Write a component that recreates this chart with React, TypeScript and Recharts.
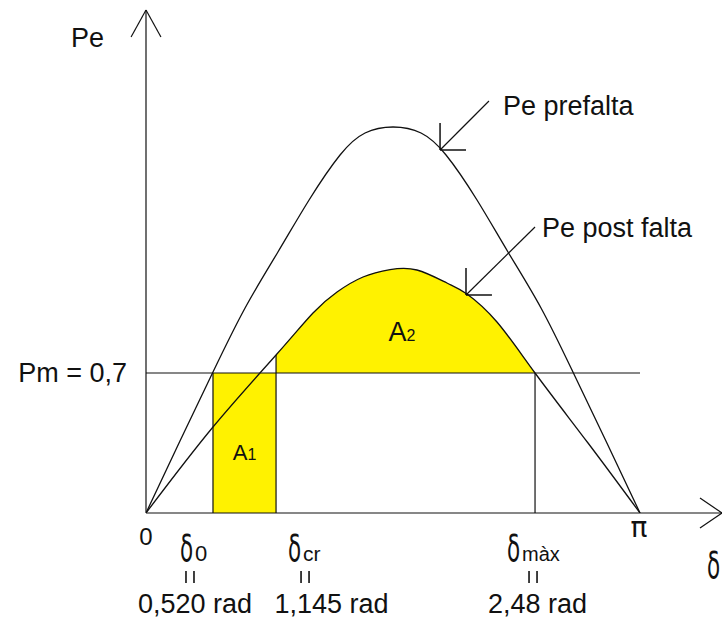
import React from 'react';
import {
  ComposedChart,
  Line,
  Area,
  XAxis,
  YAxis,
  ReferenceLine,
  ReferenceDot,
} from 'recharts';

// Curva Pe antes de la falta: [δ (rad), Pe (p.u.)]
const PE_PREFALTA: [number, number][] = [
  [0, 0], [0.216, 0.36], [0.426, 0.705], [0.63, 1.025], [0.839, 1.305],
  [1.037, 1.565], [1.234, 1.79], [1.393, 1.9], [1.571, 1.93], [1.749, 1.9],
  [1.908, 1.79], [2.105, 1.565], [2.302, 1.305], [2.512, 1.025], [2.715, 0.705],
  [2.925, 0.36], [3.1416, 0],
];

// Curva Pe después de la falta: [δ (rad), Pe (p.u.)]
const PE_POSTFALTA: [number, number][] = [
  [0, 0], [0.426, 0.43], [0.827, 0.79], [1.062, 1.0], [1.215, 1.105],
  [1.38, 1.18], [1.552, 1.217], [1.723, 1.215], [1.914, 1.15],
  [2.041, 1.095], [2.232, 0.955], [2.474, 0.7], [2.811, 0.35], [3.1416, 0],
];

const PM = 0.7;
const PM_LABEL = 'Pm = 0,7';

// Ángulos marcados sobre el eje δ (posición en el croquis)
const DELTA_0 = 0.426;
const DELTA_CR = 0.827;
const DELTA_MAX = 2.474;
const PI = Math.PI;

const X_TICKS = [0, DELTA_0, DELTA_CR, DELTA_MAX, PI];
const ANGLE_SUBS = ['0', 'cr', 'màx'];
const ANGLE_VALUES = ['0,520 rad', '1,145 rad', '2,48 rad'];
const Y_TICKS = [PM];

// Flechas indicadoras: [cola, punta] en (δ, Pe)
const CALLOUTS = [
  { text: 'Pe prefalta', tail: [2.181, 2.06], tip: [1.87, 1.815], dx: 14, dy: 14 },
  { text: 'Pe post falta', tail: [2.474, 1.43], tip: [2.035, 1.09], dx: 7, dy: 10 },
];

const X_MAX = 3.663;
const Y_MAX = 2.515;

const INK = '#111111';
const YELLOW = '#FFF200';
const FONT = '"Liberation Sans", Arial, sans-serif';
const GREEK = '"DejaVu Sans", sans-serif';

const preData = PE_PREFALTA.map(([delta, pe]) => ({ delta, pe }));
const postData = PE_POSTFALTA.map(([delta, pe]) => ({ delta, pe }));
const a1Data = [
  { delta: DELTA_0, band: [0, PM] },
  { delta: DELTA_CR, band: [0, PM] },
];
const a2Data = PE_POSTFALTA.filter(([d]) => d >= DELTA_CR && d <= DELTA_MAX).map(
  ([delta, pe]) => ({ delta, band: [PM, pe] }),
);
const peAtCr = (PE_POSTFALTA.find(([d]) => d === DELTA_CR) || [DELTA_CR, PM])[1];

// Desplazamientos (px) de cada rótulo respecto a su marca en el eje
const ANGLE_LAYOUT = [
  { glyph: -33, sub: -18, subSize: 22, eq: -23, value: -18 },
  { glyph: 12, sub: 27, subSize: 21, eq: 29, value: 55.5 },
  { glyph: -28, sub: -13, subSize: 20, eq: -2, value: 2.5 },
];

const Delta = ({ x, y }: { x: number; y: number }) => (
  <text
    transform={`translate(${x},${y}) scale(0.58,1)`}
    fontFamily={GREEK}
    fontSize={37}
    fill={INK}
  >
    δ
  </text>
);

// Signo igual en lectura vertical (dos trazos paralelos)
const VerticalEquals = ({ x, y }: { x: number; y: number }) => (
  <g stroke={INK} strokeWidth={1.6}>
    <line x1={x - 4} y1={y - 6} x2={x - 4} y2={y + 6} />
    <line x1={x + 4} y1={y - 6} x2={x + 4} y2={y + 6} />
  </g>
);

function AngleTick(props: any) {
  const { x, y, payload } = props;
  const v = Number(payload?.value);
  let idx = 0;
  X_TICKS.forEach((t, i) => {
    if (Math.abs(t - v) < Math.abs(X_TICKS[idx] - v)) idx = i;
  });
  if (idx === 0) {
    return (
      <text x={x} y={y + 32} textAnchor="middle" fontFamily={FONT} fontSize={24} fill={INK}>
        0
      </text>
    );
  }
  if (idx === X_TICKS.length - 1) {
    return (
      <text x={x - 1} y={y + 24} textAnchor="middle" fontFamily={GREEK} fontSize={28} fill={INK}>
        π
      </text>
    );
  }
  const k = idx - 1;
  const lay = ANGLE_LAYOUT[k];
  return (
    <g>
      <Delta x={x + lay.glyph} y={y + 48} />
      <text x={x + lay.sub} y={y + 48} fontFamily={FONT} fontSize={lay.subSize} fill={INK}>
        {ANGLE_SUBS[k]}
      </text>
      <VerticalEquals x={x + lay.eq} y={y + 64} />
      <text x={x + lay.value} y={y + 100} textAnchor="middle" fontFamily={FONT} fontSize={27} fill={INK}>
        {ANGLE_VALUES[k]}
      </text>
    </g>
  );
}

function PmTick(props: any) {
  const { x, y } = props;
  return (
    <text x={x - 19} y={y + 9} textAnchor="end" fontFamily={FONT} fontSize={27} fill={INK}>
      {PM_LABEL}
    </text>
  );
}

const peAxisLabel = (props: any) => {
  const vb = props?.viewBox || { x: 0, y: 10 };
  return (
    <text x={vb.x + 71} y={vb.y + 37} fontFamily={FONT} fontSize={27} fill={INK}>
      Pe
    </text>
  );
};

const deltaAxisLabel = (props: any) => {
  const vb = props?.viewBox || { x: 146, y: 513, width: 576 };
  return <Delta x={vb.x + vb.width - 15} y={vb.y + 65} />;
};

const areaLabel = (main: string, sub: string, mainSize: number, subSize: number, dy: number) =>
  (p: any) => (
    <text x={p.cx} y={p.cy + dy} textAnchor="middle" fontFamily={FONT} fill={INK}>
      <tspan fontSize={mainSize}>{main}</tspan>
      <tspan fontSize={subSize}>{sub}</tspan>
    </text>
  );

const seg = (a: number[], b: number[]) => [
  { x: a[0], y: a[1] },
  { x: b[0], y: b[1] },
];

export default function App() {
  return (
    <div style={{ position: 'absolute', left: 0, top: 0, background: '#fff' }}>
      <ComposedChart width={722} height={620} margin={{ top: 10, right: 0, bottom: 0, left: 0 }}>
        <XAxis
          type="number"
          dataKey="delta"
          domain={[0, X_MAX]}
          allowDataOverflow
          ticks={X_TICKS}
          interval={0}
          tick={(p: any) => <AngleTick {...p} />}
          tickLine={false}
          tickSize={0}
          tickMargin={0}
          height={107}
          axisLine={{ stroke: INK, strokeWidth: 1.2 }}
          label={deltaAxisLabel}
        />
        <YAxis
          type="number"
          domain={[0, Y_MAX]}
          allowDataOverflow
          ticks={Y_TICKS}
          interval={0}
          tick={(p: any) => <PmTick {...p} />}
          tickLine={false}
          tickSize={0}
          tickMargin={0}
          width={146}
          axisLine={{ stroke: INK, strokeWidth: 1.2 }}
          label={peAxisLabel}
        />

        <Area
          data={a1Data}
          dataKey="band"
          type="linear"
          stroke="none"
          fill={YELLOW}
          fillOpacity={1}
          isAnimationActive={false}
          activeDot={false}
        />
        <Area
          data={a2Data}
          dataKey="band"
          type="natural"
          stroke="none"
          fill={YELLOW}
          fillOpacity={1}
          isAnimationActive={false}
          activeDot={false}
        />

        <Line
          data={preData}
          dataKey="pe"
          type="natural"
          stroke={INK}
          strokeWidth={1.3}
          dot={false}
          activeDot={false}
          isAnimationActive={false}
        />
        <Line
          data={postData}
          dataKey="pe"
          type="natural"
          stroke={INK}
          strokeWidth={1.3}
          dot={false}
          activeDot={false}
          isAnimationActive={false}
        />

        {/* Potencia mecánica y límites de las áreas */}
        <ReferenceLine segment={seg([0, PM], [PI, PM])} stroke={INK} strokeWidth={1.2} ifOverflow="visible" />
        <ReferenceLine segment={seg([DELTA_0, 0], [DELTA_0, PM])} stroke={INK} strokeWidth={1.2} ifOverflow="visible" />
        <ReferenceLine segment={seg([DELTA_CR, 0], [DELTA_CR, peAtCr])} stroke={INK} strokeWidth={1.2} ifOverflow="visible" />
        <ReferenceLine segment={seg([DELTA_MAX, 0], [DELTA_MAX, PM])} stroke={INK} strokeWidth={1.2} ifOverflow="visible" />

        {/* Puntas de flecha de los ejes */}
        <ReferenceLine segment={seg([-0.095, 2.38], [0, Y_MAX])} stroke={INK} strokeWidth={1.2} ifOverflow="visible" />
        <ReferenceLine segment={seg([0, Y_MAX], [0.095, 2.38])} stroke={INK} strokeWidth={1.2} ifOverflow="visible" />
        <ReferenceLine segment={seg([3.523, 0.075], [X_MAX, 0])} stroke={INK} strokeWidth={1.2} ifOverflow="visible" />
        <ReferenceLine segment={seg([X_MAX, 0], [3.523, -0.075])} stroke={INK} strokeWidth={1.2} ifOverflow="visible" />

        {/* Flechas indicadoras de las curvas */}
        {CALLOUTS.map((c) => (
          <ReferenceLine key={c.text + 'a'} segment={seg(c.tail, c.tip)} stroke={INK} strokeWidth={1.2} ifOverflow="visible" />
        ))}
        {CALLOUTS.map((c) => (
          <ReferenceLine key={c.text + 'b'} segment={seg(c.tip, [c.tip[0], c.tip[1] + 0.135])} stroke={INK} strokeWidth={1.5} ifOverflow="visible" />
        ))}
        {CALLOUTS.map((c) => (
          <ReferenceLine key={c.text + 'c'} segment={seg(c.tip, [c.tip[0] + 0.165, c.tip[1]])} stroke={INK} strokeWidth={1.5} ifOverflow="visible" />
        ))}
        {CALLOUTS.map((c) => (
          <ReferenceDot
            key={c.text + 'd'}
            x={c.tail[0]}
            y={c.tail[1]}
            r={0}
            ifOverflow="visible"
            shape={(p: any) => (
              <text x={p.cx + c.dx} y={p.cy + c.dy} fontFamily={FONT} fontSize={27} fill={INK}>
                {c.text}
              </text>
            )}
          />
        ))}

        <ReferenceDot
          x={(DELTA_0 + DELTA_CR) / 2}
          y={0.3}
          r={0}
          ifOverflow="visible"
          shape={areaLabel('A', '1', 22, 16, 7)}
        />
        <ReferenceDot
          x={1.628}
          y={0.91}
          r={0}
          ifOverflow="visible"
          shape={areaLabel('A', '2', 27, 16, 10)}
        />
      </ComposedChart>
    </div>
  );
}
